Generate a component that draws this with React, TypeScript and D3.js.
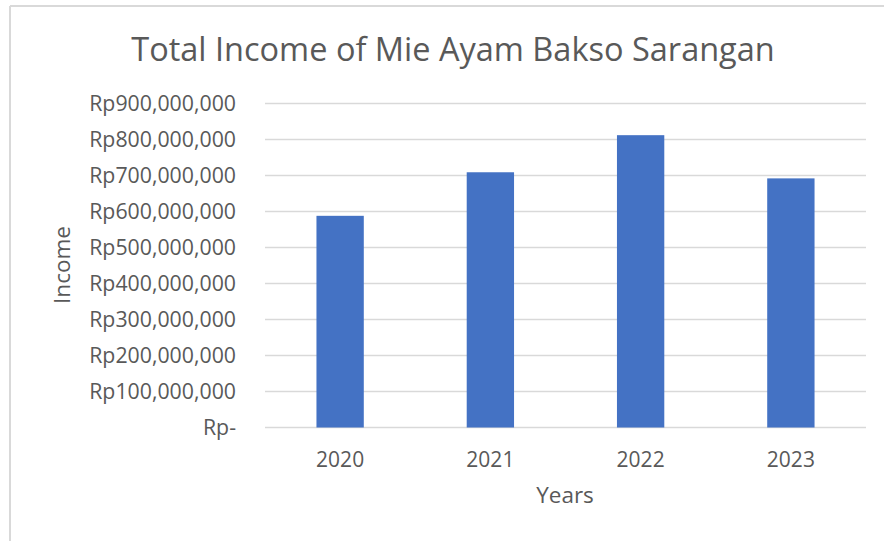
import React from "react";
import * as d3 from "d3";

const years = ["2020", "2021", "2022", "2023"];
const income = [588000000, 709000000, 812000000, 692000000];
const yTicks = [0, 100000000, 200000000, 300000000, 400000000, 500000000, 600000000, 700000000, 800000000, 900000000];

const W = 884;
const H = 541;
const FONT = "'Open Sans', 'DejaVu Sans', sans-serif";
const TXT = "#595959";

function fmt(v: number) {
  if (v === 0) return "Rp-";
  return "Rp" + d3.format(",")(v);
}

export default function App() {
  const x = d3.scaleBand().domain(years).range([265, 866]).paddingInner(0.685).paddingOuter(0.3425);
  const y = d3.scaleLinear().domain([0, 900000000]).range([427.5, 103.5]);
  return (
    <svg width={W} height={H} style={{ position: "absolute", left: 0, top: 0 }}>
      <rect x={0} y={0} width={W} height={H} fill="#fff" />
      <line x1={10} y1={6} x2={W} y2={6} stroke="#d9d9d9" strokeWidth={2} />
      <line x1={10} y1={6} x2={10} y2={H} stroke="#d9d9d9" strokeWidth={2} />
      <text x={453} y={61} textAnchor="middle" fontFamily={FONT} fontSize={32.5} fill={TXT}>
        Total Income of Mie Ayam Bakso Sarangan
      </text>
      {yTicks.map((t) => (
        <g key={t}>
          <line x1={265} x2={866} y1={y(t)} y2={y(t)} stroke="#d9d9d9" strokeWidth={1.5} />
          <text x={236} y={y(t) + 7} textAnchor="end" fontFamily={FONT} fontSize={21.3} fill={TXT}>
            {fmt(t)}
          </text>
        </g>
      ))}
      {years.map((yr, i) => (
        <rect key={yr} x={x(yr)} y={y(income[i])} width={x.bandwidth()} height={y(0) - y(income[i])} fill="#4472c4" />
      ))}
      {years.map((yr) => (
        <text key={yr} x={(x(yr) as number) + x.bandwidth() / 2} y={467} textAnchor="middle" fontFamily={FONT} fontSize={21} fill={TXT}>
          {yr}
        </text>
      ))}
      <text x={565} y={503} textAnchor="middle" fontFamily={FONT} fontSize={22.5} fill={TXT}>
        Years
      </text>
      <text transform="translate(70,265) rotate(-90)" textAnchor="middle" fontFamily={FONT} fontSize={22.5} fill={TXT}>
        Income
      </text>
    </svg>
  );
}
